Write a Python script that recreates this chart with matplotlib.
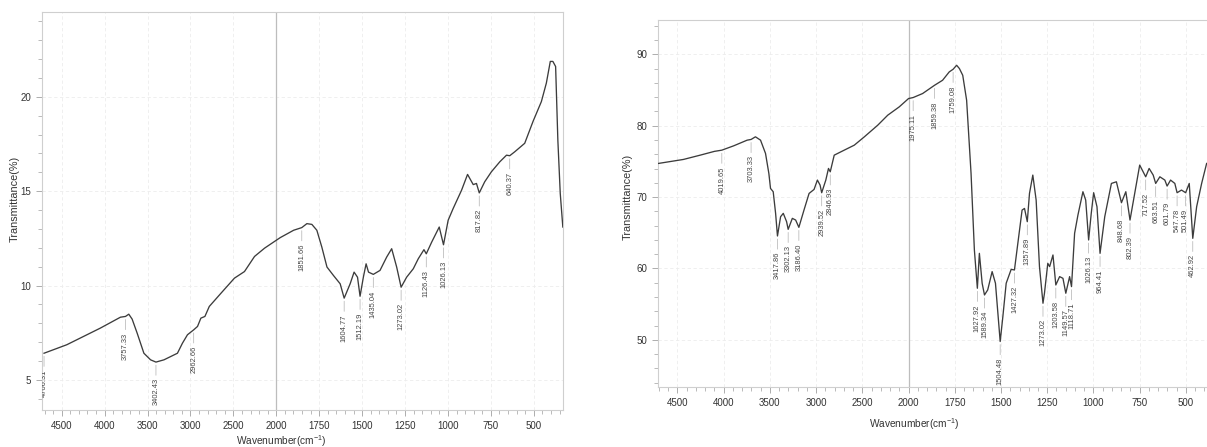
import numpy as np
import matplotlib
matplotlib.use('Agg')
import matplotlib.pyplot as plt
from matplotlib.ticker import FixedLocator, FuncFormatter

plt.rcParams['font.family'] = ['Liberation Sans Narrow', 'Liberation Sans', 'DejaVu Sans']
plt.rcParams['mathtext.fontset'] = 'custom'
plt.rcParams['mathtext.rm'] = 'Liberation Sans'

# spectrum 1
wn_a = [4706.31, 4441, 4051, 3816, 3757.33, 3719, 3680, 3621, 3543, 3465, 3402.43, 3309,
        3152, 3094, 3035, 2962.66, 2918, 2879, 2832, 2781, 2645, 2488, 2371, 2254, 2137,
        2000, 1977, 1899, 1851.66, 1822, 1793, 1764, 1735, 1705, 1667, 1628, 1604.77, 1570,
        1547, 1527, 1512.19, 1493, 1477, 1463, 1435.04, 1396, 1357, 1328, 1299, 1273.02,
        1241, 1202, 1173, 1140, 1126.43, 1095, 1051, 1026.13, 999, 970, 921, 886, 853, 834,
        817.82, 786, 747, 698, 659, 640.37, 611, 553, 505, 456, 427, 404, 389, 373, 360, 346, 331]
tr_a = [6.41, 6.86, 7.74, 8.32, 8.36, 8.48, 8.22, 7.47, 6.41, 6.06, 5.94, 6.06,
        6.41, 6.94, 7.39, 7.65, 7.83, 8.27, 8.36, 8.89, 9.59, 10.39, 10.74, 11.54, 11.98,
        12.40, 12.54, 12.93, 13.07, 13.28, 13.24, 12.93, 12.04, 10.98, 10.53, 10.09, 9.33, 10.09,
        10.71, 10.44, 9.43, 10.44, 11.15, 10.71, 10.59, 10.80, 11.51, 11.95, 10.98, 9.91,
        10.44, 10.89, 11.42, 11.90, 11.68, 12.30, 13.10, 12.16, 13.46, 14.08, 15.05, 15.89, 15.35, 15.41,
        14.91, 15.50, 16.03, 16.56, 16.91, 16.88, 17.09, 17.54, 18.69, 19.75, 20.73, 21.88, 21.88, 21.61, 17.71, 14.88, 13.10]
peaks_a = [4706.31, 3757.33, 3402.43, 2962.66, 1851.66, 1604.77, 1512.19, 1435.04,
           1273.02, 1126.43, 1026.13, 817.82, 640.37]

# spectrum 2
wn_b = [4706, 4435, 4254, 4100, 4019.65, 3891, 3746, 3703.33, 3656, 3601, 3547, 3511, 3493,
        3464, 3438, 3417.86, 3384, 3355, 3319, 3302.13, 3257, 3221, 3186.40, 3131, 3076, 3022,
        2986, 2957, 2939.52, 2895, 2866, 2846.93, 2804, 2696, 2587, 2478, 2333, 2225, 2101,
        2000, 1975.11, 1924, 1859.38, 1816, 1780, 1759.08, 1740, 1725, 1707, 1686, 1662, 1644,
        1627.92, 1617, 1602, 1589.34, 1572, 1548, 1530, 1504.48, 1490, 1472, 1445, 1427.32,
        1409, 1386, 1373, 1357.89, 1346, 1328, 1310, 1292, 1273.02, 1265, 1247, 1237, 1219,
        1203.58, 1183, 1165, 1149.57, 1129, 1118.71, 1102, 1084, 1057, 1042, 1026.13, 1012, 999,
        981, 964.41, 939, 903, 876, 848.68, 825, 802.39, 777, 750, 717.52, 699, 677, 663.51,
        641, 614, 601.79, 583, 560, 547.78, 524, 501.49, 482, 462.92, 442, 415, 388]
tr_b = [74.71, 75.27, 75.87, 76.40, 76.57, 77.18, 77.97, 78.07, 78.44, 77.97, 76.11, 73.31, 71.21,
        70.75, 67.72, 64.55, 67.25, 67.72, 66.55, 65.48, 67.02, 66.78, 65.76, 68.18, 70.51, 71.07,
        72.38, 71.68, 70.61, 72.38, 74.01, 73.54, 75.87, 76.57, 77.27, 78.44, 80.07, 81.47, 82.63,
        83.80, 83.94, 84.50, 85.66, 86.36, 87.53, 87.90, 88.46, 88.00, 87.06, 83.57, 73.31, 62.59,
        57.23, 62.12, 57.93, 56.29, 56.99, 59.56, 57.93, 49.77, 53.26, 57.93, 59.88, 59.79,
        63.52, 68.18, 68.41, 66.55, 70.51, 73.08, 69.58, 60.26, 55.13, 56.53, 60.72, 60.26, 61.89,
        57.69, 58.86, 58.62, 56.53, 58.86, 57.46, 64.92, 67.48, 70.75, 69.58, 63.99, 67.72, 70.61,
        68.65, 62.12, 67.25, 71.91, 72.14, 69.21, 70.75, 66.78, 70.51, 74.48, 72.84, 74.01, 73.08, 71.91,
        72.84, 72.38, 71.54, 72.38, 71.91, 70.61, 70.98, 70.61, 71.91, 64.22, 68.65, 71.91, 74.71]
peaks_b = [4019.65, 3703.33, 3417.86, 3302.13, 3186.40, 2939.52, 2846.93, 1975.11, 1859.38,
           1759.08, 1627.92, 1589.34, 1504.48, 1427.32, 1357.89, 1273.02, 1203.58, 1149.57,
           1118.71, 1026.13, 964.41, 848.68, 802.39, 717.52, 663.51, 601.79, 547.78, 501.49, 462.92]

x_major = [4500, 4000, 3500, 3000, 2500, 2000, 1750, 1500, 1250, 1000, 750, 500]


# wavenumber axis is squeezed 2:1 above 2000 cm-1
def fwd(w):
    w = np.asarray(w, dtype=float)
    return np.where(w > 2000, 2000 + (w - 2000) / 2, w)


def inv(u):
    u = np.asarray(u, dtype=float)
    return np.where(u > 2000, 2000 + (u - 2000) * 2, u)


def setup_axis(ax, xlim, ylim, ymajor, yminor, ylab_xy, xlab_xy):
    ax.set_xscale('function', functions=(fwd, inv))
    ax.set_xlim(*xlim)
    ax.set_ylim(*ylim)
    x_minor = [w for w in list(range(4700, 2000, -100)) + list(range(1950, 300, -50))
               if w not in x_major]
    ax.xaxis.set_major_locator(FixedLocator(x_major))
    ax.xaxis.set_minor_locator(FixedLocator(x_minor))
    ax.xaxis.set_major_formatter(FuncFormatter(lambda v, p: '%d' % v))
    ax.yaxis.set_major_locator(FixedLocator(ymajor))
    ax.yaxis.set_minor_locator(FixedLocator(yminor))
    ax.tick_params(which='both', direction='out', color='#a0a0a0', labelcolor='#333333',
                   labelsize=7, pad=4)
    ax.tick_params(which='major', length=4, width=0.6)
    ax.tick_params(which='minor', length=3, width=0.5)
    for s in ax.spines.values():
        s.set_color('#cfcfcf')
        s.set_linewidth(0.8)
    ax.grid(which='major', color='#ededed', linestyle=(0, (4, 3)), linewidth=0.6, zorder=0)
    ax.axvline(2000, color='#bdbdbd', lw=0.9, zorder=2)
    ax.set_xlabel('Wavenumber(cm$^{-1}$)', fontsize=7.3, color='#333333')
    ax.set_ylabel('Transmittance(%)', fontsize=7.8, color='#333333', family='Liberation Sans')
    ax.xaxis.set_label_coords(*xlab_xy)
    ax.yaxis.set_label_coords(*ylab_xy)


def mark_peaks(ax, wn, tr, peaks):
    for p in peaks:
        y = np.interp(p, wn[::-1], tr[::-1])
        ax.annotate('%.2f' % p, xy=(p, y), xytext=(0, -11.5), textcoords='offset points',
                    rotation=90, ha='center', va='top', fontsize=5.4, color='#454545',
                    family='Liberation Sans', clip_on=True,
                    arrowprops=dict(arrowstyle='-', color='#b0b0b0', lw=0.5,
                                    shrinkA=0, shrinkB=2.2))


fig = plt.figure(figsize=(12.07, 4.47), dpi=100)
ax1 = fig.add_axes([42 / 1207, 37 / 447, 521 / 1207, 398 / 447])
ax2 = fig.add_axes([658 / 1207, 60 / 447, 549 / 1207, 367 / 447])

ax1.plot(wn_a, tr_a, color='#3c3c3c', lw=0.95, zorder=3)
setup_axis(ax1, (4730, 330), (3.4, 24.5), [5, 10, 15, 20], list(range(4, 25)),
           (-0.042, 0.53), (0.46, -0.058))
mark_peaks(ax1, np.array(wn_a), np.array(tr_a), peaks_a)

ax2.plot(wn_b, tr_b, color='#3c3c3c', lw=0.95, zorder=3)
setup_axis(ax2, (4710, 386), (43.4, 94.8), [50, 60, 70, 80, 90], list(range(44, 95, 2)),
           (-0.046, 0.518), (0.466, -0.079))
ax2.spines['right'].set_visible(False)
mark_peaks(ax2, np.array(wn_b), np.array(tr_b), peaks_b)

fig.savefig('out.png', dpi=100)
